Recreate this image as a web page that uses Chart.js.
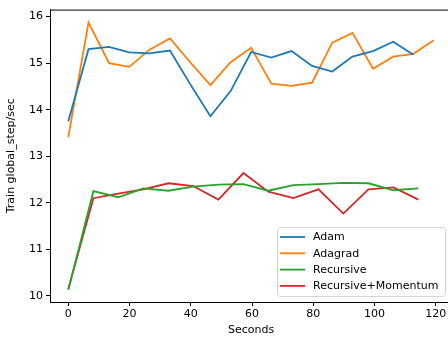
<!DOCTYPE html>
<html>
<head>
<meta charset="utf-8">
<script src="https://cdn.jsdelivr.net/npm/chart.js@4.4.0/dist/chart.umd.min.js"></script>
<style>
  html, body { margin: 0; padding: 0; background: #fff; overflow: hidden; }
  #wrap { width: 448px; height: 341px; overflow: hidden; }
</style>
</head>
<body>
<div id="wrap"><canvas id="speedChart" width="460" height="341"></canvas></div>
<script>
// Data
const adamSeconds = [0, 6.6, 13.3, 19.9, 26.5, 33.2, 39.8, 46.4, 53.0, 59.7, 66.3, 72.9, 79.6, 86.2, 92.8, 99.5, 106.1, 112.7];
const adam = [13.75, 15.30, 15.35, 15.23, 15.21, 15.27, 14.55, 13.86, 14.40, 15.24, 15.12, 15.26, 14.94, 14.82, 15.14, 15.26, 15.46, 15.18];

const adagradSeconds = [0, 6.6, 13.3, 19.9, 26.5, 33.2, 39.8, 46.4, 53.0, 59.7, 66.3, 72.9, 79.6, 86.2, 92.8, 99.5, 106.1, 112.7, 119.3];
const adagrad = [13.41, 15.87, 15.00, 14.92, 15.29, 15.53, 15.02, 14.53, 15.02, 15.33, 14.56, 14.51, 14.58, 15.44, 15.65, 14.88, 15.14, 15.20, 15.49];

const recursiveSeconds = [0, 8.2, 16.3, 24.5, 32.7, 40.8, 49.0, 57.2, 65.3, 73.5, 81.7, 89.8, 98.0, 106.2, 114.3];
const recursive = [10.13, 12.25, 12.12, 12.31, 12.26, 12.35, 12.39, 12.40, 12.26, 12.38, 12.40, 12.43, 12.42, 12.27, 12.31];
const momentum = [10.15, 12.10, 12.20, 12.29, 12.42, 12.36, 12.07, 12.64, 12.24, 12.10, 12.29, 11.77, 12.29, 12.33, 12.07];

const xTicks = [0, 20, 40, 60, 80, 100, 120];
const yTicks = [10, 11, 12, 13, 14, 15, 16];

function toPoints(xs, ys) {
  return ys.map((y, i) => ({ x: xs[i], y: y }));
}

Chart.defaults.font.family = "'DejaVu Sans', sans-serif";
Chart.defaults.font.size = 11;
Chart.defaults.color = '#000';

// top + right spines like matplotlib
const frame = {
  id: 'frame',
  afterDraw(chart) {
    const { ctx, chartArea: a } = chart;
    ctx.save();
    ctx.strokeStyle = '#000';
    ctx.lineWidth = 1;
    ctx.beginPath();
    ctx.moveTo(a.left, a.top + 0.5);
    ctx.lineTo(a.right, a.top + 0.5);
    ctx.lineTo(a.right, a.bottom);
    ctx.stroke();
    ctx.restore();
  }
};

// legend box in the lower right corner
const legendBox = {
  id: 'legendBox',
  afterDraw(chart) {
    const ctx = chart.ctx;
    const x = 277.5, y = 227.5, w = 168, h = 69, r = 3;
    ctx.save();
    ctx.fillStyle = 'rgba(255,255,255,0.8)';
    ctx.strokeStyle = '#d5d5d5';
    ctx.lineWidth = 1;
    ctx.beginPath();
    ctx.roundRect(x, y, w, h, r);
    ctx.fill();
    ctx.stroke();
    ctx.textBaseline = 'middle';
    ctx.font = "11px 'DejaVu Sans'";
    chart.data.datasets.forEach((ds, i) => {
      const cy = 237 + i * 16.3;
      ctx.strokeStyle = ds.borderColor;
      ctx.lineWidth = 1.8;
      ctx.beginPath();
      ctx.moveTo(280, cy);
      ctx.lineTo(305, cy);
      ctx.stroke();
      ctx.fillStyle = '#000';
      ctx.fillText(ds.label, 313, cy + 0.5);
    });
    ctx.restore();
  }
};

const ctx = document.getElementById('speedChart').getContext('2d');
const speedChart = new Chart(ctx, {
  type: 'line',
  data: {
    datasets: [{
      label: 'Adam',
      data: toPoints(adamSeconds, adam),
      borderColor: '#1f77b4'
    }, {
      label: 'Adagrad',
      data: toPoints(adagradSeconds, adagrad),
      borderColor: '#ff7f0e'
    }, {
      label: 'Recursive',
      data: toPoints(recursiveSeconds, recursive),
      borderColor: '#2ca02c'
    }, {
      label: 'Recursive+Momentum',
      data: toPoints(recursiveSeconds, momentum),
      borderColor: '#d62728'
    }]
  },
  options: {
    responsive: false,
    animation: false,
    layout: { padding: { top: 3, right: 8, left: 0, bottom: 0 } },
    elements: {
      line: { borderWidth: 1.8, tension: 0, fill: false },
      point: { radius: 0 }
    },
    scales: {
      x: {
        type: 'linear',
        min: -5.97,
        max: 125.3,
        afterFit: s => { s.height = 39; },
        afterBuildTicks: s => { s.ticks = xTicks.map(v => ({ value: v })); },
        grid: { drawOnChartArea: false, tickLength: 4, tickColor: '#000' },
        border: { display: true, color: '#000', width: 1 },
        ticks: { padding: 2, maxRotation: 0, autoSkip: false },
        title: { display: true, text: 'Seconds', padding: { top: 0, bottom: 4 } }
      },
      y: {
        min: 9.87,
        max: 16.15,
        afterFit: s => { s.width = 50; },
        afterBuildTicks: s => { s.ticks = yTicks.map(v => ({ value: v })); },
        grid: { drawOnChartArea: false, tickLength: 4, tickColor: '#000' },
        border: { display: true, color: '#000', width: 1 },
        ticks: { padding: 3 },
        title: { display: true, text: 'Train global_step/sec', padding: { top: 5, bottom: 0 } }
      }
    },
    plugins: {
      legend: { display: false },
      tooltip: { enabled: false }
    }
  },
  plugins: [frame, legendBox]
});
</script>
</body>
</html>
